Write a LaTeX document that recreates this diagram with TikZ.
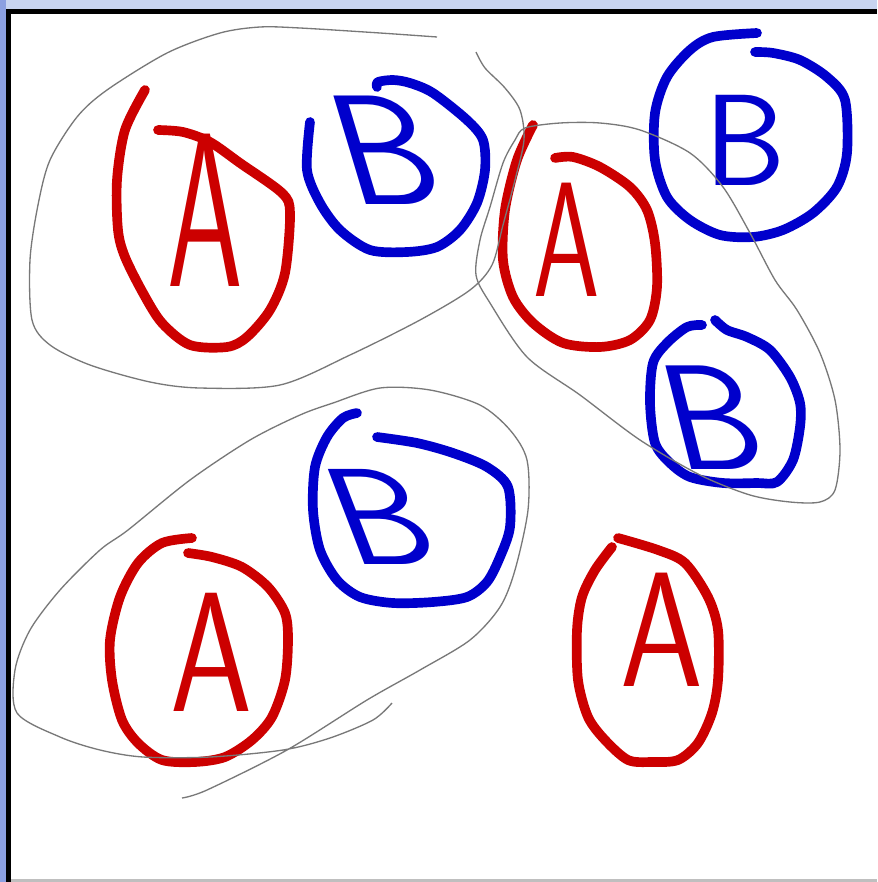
\documentclass[tikz,border=0pt]{standalone}
\usepackage{fontspec}

\definecolor{penred}{RGB}{204,0,0}
\definecolor{penblue}{RGB}{0,0,204}
\definecolor{loopgray}{RGB}{120,120,120}
\definecolor{barblue}{RGB}{200,212,240}
\definecolor{edgeblue}{RGB}{140,160,225}

\newcommand{\inksize}[1]{\sffamily\fontsize{#1}{#1}\selectfont}

\begin{document}
\begin{tikzpicture}[x=0.02cm,y=-0.02cm,
    letter/.style={inner sep=0pt,transform shape},
    alabel/.style={letter,text=penred},
    blabel/.style={letter,text=penblue},
    redring/.style={draw=penred,line width=5.5pt,line cap=round,line join=round},
    bluering/.style={draw=penblue,line width=5.5pt,line cap=round,line join=round},
    loop/.style={draw=loopgray,line width=0.75pt}]
    \useasboundingbox (0,0) rectangle (877,882);
    % window frame
    \fill[white] (0,0) rectangle (877,882);
    \fill[barblue] (0,0) rectangle (877,9.5);
    \fill[edgeblue] (0,0) rectangle (6,882);
    \fill[black] (6,9.5) rectangle (877,14);
    \fill[black] (6,9.5) rectangle (11,882);
    \fill[gray!50] (11,879) rectangle (877,882);

    % letters
    \node[alabel,font=\inksize{125pt},xscale=0.55] (a1) at (205,210) {A};
    \node[blabel,font=\inksize{89pt},xslant=-0.3] (b1) at (385,150) {B};
    \node[alabel,font=\inksize{93pt},xscale=0.65] (a2) at (567,240) {A};
    \node[blabel,font=\inksize{74pt}] (b2) at (745,140) {B};
    \node[blabel,font=\inksize{85pt},xslant=-0.25] (b3) at (712,418) {B};
    \node[blabel,font=\inksize{78pt},xscale=1.1,xslant=-0.35] (b4) at (380,517) {B};
    \node[alabel,font=\inksize{97pt},xscale=0.77] (a3) at (212,652) {A};
    \node[alabel,font=\inksize{93pt},xscale=0.81] (a4) at (662,630) {A};

    % rings
    \draw[redring] plot[smooth,tension=0.5] coordinates {(145,90) (125,130) (117,180) (118,230) (125,257) (143,293) (162,323) (190,345) (227,347) (247,337) (270,310) (285,273) (290,213) (282,193) (240,163) (210,142) (183,132) (158,130)};
    \draw[bluering] plot[smooth,tension=0.5] coordinates {(310,122) (307,170) (320,203) (340,230) (370,250) (407,252) (437,247) (460,230) (477,203) (485,170) (483,140) (467,120) (433,93) (410,83) (393,80) (378,82) (377,87)};
    \draw[redring] plot[smooth,tension=0.5] coordinates {(533,125) (517,160) (505,210) (503,260) (513,297) (533,323) (563,343) (600,347) (630,340) (650,320) (657,287) (655,243) (647,210) (630,187) (600,167) (573,157) (555,158)};
    \draw[bluering] plot[smooth,tension=0.5] coordinates {(757,33) (713,37) (690,50) (667,77) (655,113) (655,160) (667,197) (690,220) (720,235) (753,237) (783,230) (813,213) (837,187) (847,153) (845,100) (827,77) (800,60) (773,53) (755,52)};
    \draw[bluering] plot[smooth,tension=0.5] coordinates {(702,325) (687,327) (667,343) (653,363) (650,403) (655,443) (670,463) (690,477) (723,483) (757,483) (777,482) (793,460) (800,427) (800,403) (790,377) (770,350) (747,337) (727,330) (715,320)};
    \draw[bluering] plot[smooth,tension=0.5] coordinates {(357,413) (343,418) (327,437) (315,467) (313,510) (320,550) (337,580) (360,597) (393,603) (433,602) (467,597) (487,582) (500,557) (510,527) (508,487) (487,467) (453,453) (417,443) (377,437)};
    \draw[redring] plot[smooth,tension=0.5] coordinates {(192,538) (162,543) (138,563) (120,597) (110,640) (112,680) (122,720) (138,743) (162,760) (195,762) (225,757) (252,740) (272,717) (285,680) (288,640) (285,613) (268,587) (242,567) (212,557) (188,553)};
    \draw[redring] plot[smooth,tension=0.5] coordinates {(612,547) (595,570) (582,597) (577,630) (578,680) (588,717) (605,740) (628,760) (652,762) (678,760) (698,743) (712,713) (718,680) (718,630) (708,597) (685,563) (658,550) (618,538)};

    % grouping loops
    \draw[loop] plot[smooth,tension=0.5] coordinates {(437,37) (380,33) (300,28) (260,27) (220,33) (167,53) (107,90) (77,117) (50,160) (38,205) (30,260) (32,320) (50,345) (90,365) (150,382) (200,388) (280,385) (350,355) (420,320) (470,290) (492,265) (503,225) (515,180) (524,140) (520,110) (505,88) (485,68) (476,52)};
    \draw[loop] plot[smooth cycle,tension=0.5] coordinates {(525,128) (560,123) (600,123) (640,130) (690,153) (723,187) (750,233) (775,280) (797,310) (820,353) (835,400) (840,450) (835,490) (820,502) (790,502) (750,495) (700,475) (640,440) (580,395) (527,357) (490,303) (476,275) (480,240) (490,207) (503,163) (515,140)};
    \draw[loop] plot[smooth,tension=0.5] coordinates {(392,703) (373,720) (330,738) (283,750) (210,757) (143,757) (100,750) (60,737) (17,713) (15,670) (30,630) (60,590) (100,550) (128,530) (190,480) (250,440) (300,415) (333,403) (380,388) (430,390) (480,405) (510,430) (527,460) (528,510) (515,570) (500,607) (470,640) (420,670) (367,700) (287,750) (207,790) (182,798)};
\end{tikzpicture}
\end{document}
